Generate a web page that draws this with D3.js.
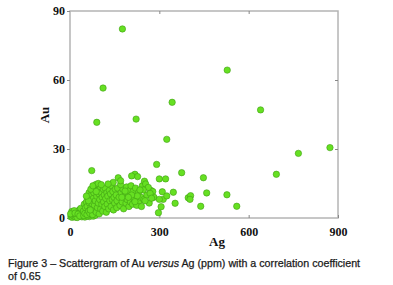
<!DOCTYPE html>
<html>
<head>
<meta charset="utf-8">
<script src="https://cdn.jsdelivr.net/npm/d3@7"></script>
<style>
  body { margin: 0; background: #fff; }
  svg { display: block; }
  .lbl { font-family: "Liberation Serif", "Times New Roman", serif; font-weight: bold; fill: #111; }
</style>
</head>
<body>
<div id="chart"></div>
<script>
// Scattergram of Au versus Ag (ppm), [Ag, Au] pairs
const outliers = [
  [176, 82.2], [111, 56.5], [343, 50.3], [222, 43], [90, 41.6], [528, 64.3],
  [640, 47], [325, 34.2], [873, 30.6], [767, 28.1], [693, 19], [291, 23.3],
  [375, 19.7], [448, 17.5], [73, 20.6]
];
const midScatter = [
  [300, 17], [321, 17], [218, 19], [227, 18], [207, 18.3], [162, 17.5], [170, 16.2],
  [459, 10.9], [397, 8.8], [405, 9.7], [403, 8.1], [439, 5.1], [527, 10.1], [560, 5.1],
  [347, 11.2], [353, 6.4], [297, 2.3], [306, 4.9], [310, 11.4], [313, 8.1], [300, 8.1],
  [325, 9.6], [254, 14.8], [263, 13.3], [246, 12.2], [269, 10.7], [274, 8.6], [252, 7.5],
  [235, 12.2], [226, 9.6], [218, 7.1], [207, 10], [185, 11.7], [174, 9], [196, 9]
];
const clusterLow = [
  [3, 0.5], [5, 1.2], [8, 0.3], [10, 2], [12, 0.8], [15, 1.5], [18, 0.4], [20, 2.5],
  [22, 1], [25, 3], [28, 0.6], [30, 1.8], [32, 3.5], [35, 1.2], [38, 2.6], [40, 0.5],
  [6, 2.8], [14, 3.2], [24, 0.2], [36, 4.2], [42, 1.5], [2, 1.8], [17, 2.1], [27, 1.7],
  [33, 0.9], [50, 0.4], [65, 0.6], [78, 0.8], [85, 1.2], [58, 0.9], [46, 1.1]
];
const clusterMid = [
  [45, 3], [48, 6], [50, 2], [52, 4.5], [55, 7], [57, 1.5], [58, 5], [60, 9], [62, 3],
  [64, 11], [65, 6.5], [67, 2], [68, 8], [70, 4.5], [72, 10], [73, 12], [75, 6], [76, 1.5],
  [78, 8.5], [80, 3.5], [80, 11], [82, 5.5], [84, 13], [85, 7.5], [87, 14.6], [88, 2.5],
  [90, 9.5], [92, 4.5], [93, 12], [95, 6.5], [97, 10.5], [98, 1.8], [100, 8], [102, 13.5],
  [103, 4], [105, 11], [107, 6], [108, 9], [110, 3], [112, 12.5], [113, 7], [115, 10],
  [117, 5], [118, 13], [120, 8.5], [122, 2.5], [124, 11], [125, 6], [127, 9.5], [130, 4],
  [62, 7.5], [70, 12.5], [77, 14], [95, 15], [55, 9.5], [88, 11.5], [105, 14.5], [68, 3.5]
];
const clusterHigh = [
  [132, 12], [134, 7.5], [136, 10.5], [138, 5], [140, 14], [142, 8], [144, 11.5],
  [146, 3.5], [148, 9], [150, 6.5], [152, 12.5], [155, 10], [157, 4.5], [158, 7.5],
  [160, 13], [165, 9], [168, 5.5], [172, 11], [175, 7], [178, 12.5], [180, 4], [183, 9.5],
  [188, 6.5], [190, 13.5], [192, 8], [195, 10.5], [198, 5], [200, 12], [203, 7], [205, 14],
  [210, 6], [212, 11.5], [215, 8.5], [220, 13], [224, 5.5], [230, 11], [233, 7.5],
  [238, 9], [240, 5], [243, 14], [248, 8], [258, 10], [266, 6.5], [272, 12], [278, 11.5],
  [282, 9], [145, 15.5], [170, 14.5], [128, 14.8], [250, 16]
];
const xTicks = [0, 300, 600, 900];
const yTicks = [0, 30, 60, 90];

const width = 393, height = 285;
const margin = { top: 11, right: 55, bottom: 67, left: 70 };
const innerWidth = width - margin.left - margin.right;
const innerHeight = height - margin.top - margin.bottom;

const svg = d3.select("#chart").append("svg")
  .attr("width", width)
  .attr("height", height);

const g = svg.append("g")
  .attr("transform", `translate(${margin.left},${margin.top})`);

const x = d3.scaleLinear().domain([0, 900]).range([0, innerWidth]);
const y = d3.scaleLinear().domain([0, 90]).range([innerHeight, 0]);

const axisColor = "#b4b4b4";

// frame
g.append("rect")
  .attr("width", innerWidth)
  .attr("height", innerHeight)
  .attr("fill", "none")
  .attr("stroke", axisColor)
  .attr("stroke-width", 1.5);

function styleAxis(sel) {
  sel.attr("font-family", null).attr("font-size", null);
  sel.select(".domain").remove();
  sel.selectAll(".tick line").attr("stroke", "#888").attr("stroke-width", 1);
  sel.selectAll(".tick text")
    .attr("class", "lbl")
    .attr("fill", null)
    .style("font-size", "12px");
}

// bottom / left with labels
g.append("g")
  .attr("transform", `translate(0,${innerHeight})`)
  .call(d3.axisBottom(x).tickValues(xTicks).tickSizeInner(-3).tickPadding(9))
  .call(styleAxis);

g.append("g")
  .call(d3.axisLeft(y).tickValues(yTicks).tickSizeInner(3).tickPadding(2))
  .call(styleAxis);

// top / right: mirrored tick marks only
g.append("g")
  .call(d3.axisTop(x).tickValues(xTicks.slice(1, -1)).tickSizeInner(-3))
  .call(styleAxis)
  .call(s => s.selectAll("text").remove());

g.append("g")
  .attr("transform", `translate(${innerWidth},0)`)
  .call(d3.axisRight(y).tickValues(yTicks.slice(1, -1)).tickSizeInner(-3))
  .call(styleAxis)
  .call(s => s.selectAll("text").remove());

// points
const allPoints = [...clusterLow, ...clusterMid, ...clusterHigh, ...midScatter, ...outliers];
g.append("g")
  .selectAll("circle")
  .data(allPoints)
  .join("circle")
  .attr("cx", d => x(d[0]))
  .attr("cy", d => y(d[1]))
  .attr("r", 3.2)
  .attr("fill", "#66e022")
  .attr("stroke", "#3f9f14")
  .attr("stroke-width", 0.6);

// axis titles
g.append("text")
  .attr("class", "lbl")
  .attr("x", innerWidth / 2 + 13)
  .attr("y", innerHeight + 28)
  .attr("text-anchor", "middle")
  .style("font-size", "13px")
  .text("Ag");

g.append("text")
  .attr("class", "lbl")
  .attr("transform", "rotate(-90)")
  .attr("x", -104)
  .attr("y", -21)
  .attr("text-anchor", "middle")
  .style("font-size", "13px")
  .text("Au");

// caption
const caption = svg.append("text")
  .attr("font-family", "'Liberation Sans', Arial, sans-serif")
  .attr("font-size", "10.7px")
  .attr("fill", "#1a1a1a")
  .attr("stroke", "#1a1a1a")
  .attr("stroke-width", 0.25);

const line1 = caption.append("tspan").attr("x", 8).attr("y", 267);
line1.append("tspan").text("Figure 3 – Scattergram of Au ");
line1.append("tspan").attr("font-style", "italic").text("versus");
line1.append("tspan").text(" Ag (ppm) with a correlation coefficient");
caption.append("tspan").attr("x", 8).attr("y", 280).text("of 0.65");
</script>
</body>
</html>
